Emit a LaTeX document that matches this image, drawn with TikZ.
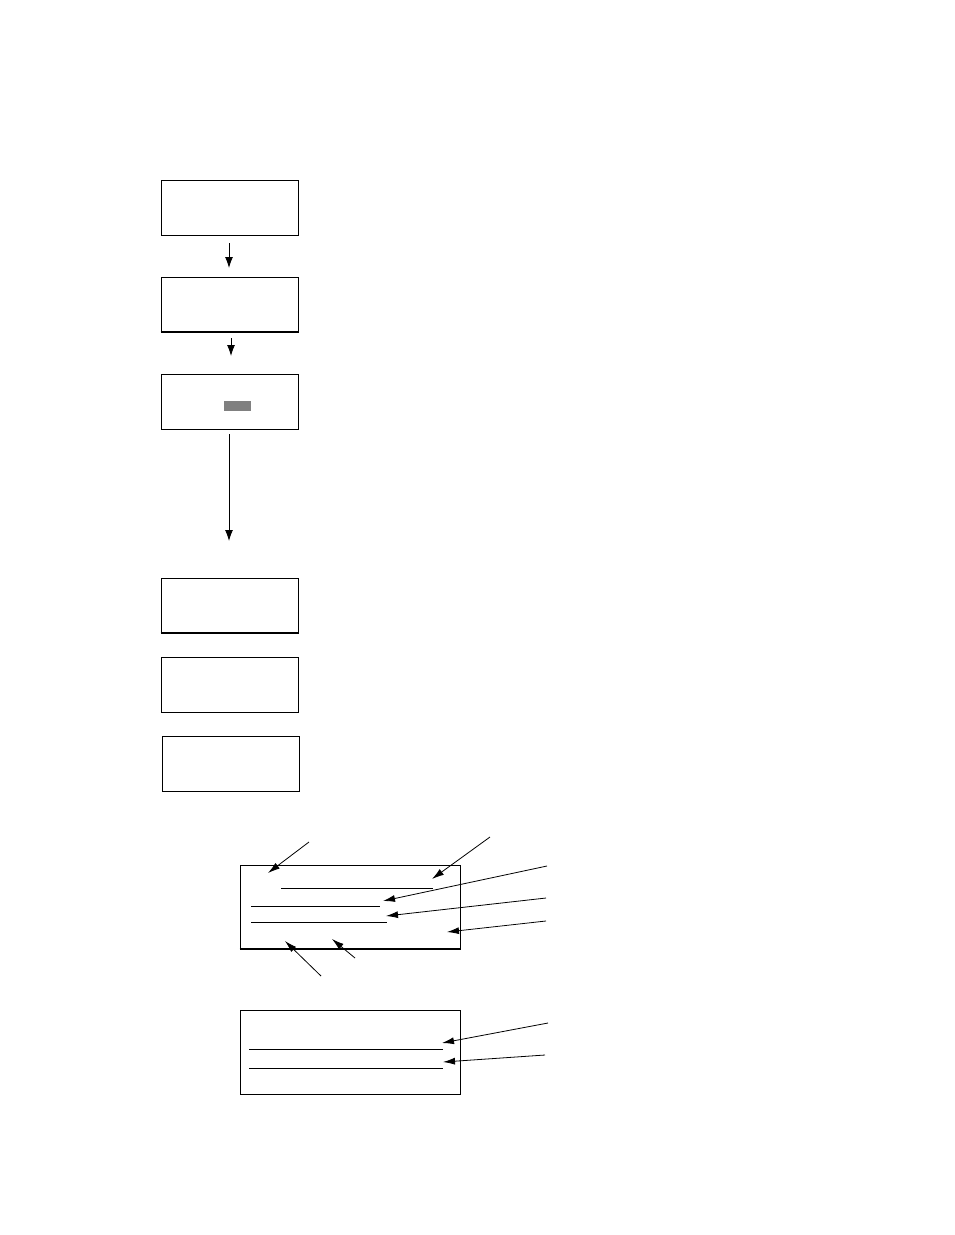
\documentclass[tikz,border=0pt]{standalone}
\usetikzlibrary{arrows.meta}

\tikzset{
  screen/.style={draw, line width=0.9pt, minimum width=137pt, minimum height=55pt, inner sep=0pt},
  panel/.style={draw, line width=0.9pt, minimum width=220pt, minimum height=84pt, inner sep=0pt},
  flow/.style={line width=0.9pt, -{Latex[length=11pt, width=8pt]}},
  callout/.style={line width=0.8pt, -{Latex[length=12pt, width=7pt]}},
  field/.style={line width=0.8pt}
}

\begin{document}
\begin{tikzpicture}[x=1pt, y=-1pt]
            \useasboundingbox (0,0) rectangle (954,1235);

            % screens
            \node[screen] (s1) at (229.5, 207.5) {};
            \node[screen] (s2) at (229.5, 304.5) {};
            \node[screen] (s3) at (229.5, 401.5) {};
            \node[screen] (s4) at (229.5, 605.5) {};
            \node[screen] (s5) at (229.5, 684.5) {};
            \node[screen] (s6) at (230.5, 763.5) {};

            \draw[line width=2pt] (s2.south west) -- (s2.south east);
            \draw[line width=2pt] (s4.south west) -- (s4.south east);
            \fill[gray] (224, 401) rectangle (251, 411);

            \coordinate (f1) at (229, 243);
            \coordinate (t1) at (229, 268);
            \coordinate (f2) at (231, 338);
            \coordinate (t2) at (231, 356);
            \coordinate (f3) at (229, 434);
            \coordinate (t3) at (229, 541);

            \draw[flow] (f1) to (t1);
            \draw[flow] (f2) to (t2);
            \draw[flow] (f3) to (t3);

            % detail panels
            \node[panel] (p1) at (350, 907) {};
            \node[panel] (p2) at (350.5, 1052.5) {};
            \draw[line width=2pt] (p1.south west) -- (p1.south east);

            \draw[field] (281, 888) -- (433, 888);
            \draw[field] (251, 906) -- (380, 906);
            \draw[field] (251, 922) -- (387, 922);
            \draw[field] (249, 1049) -- (443, 1049);
            \draw[field] (249, 1068) -- (443, 1068);

            \coordinate (c1) at (309, 842);
            \coordinate (d1) at (268, 873);
            \coordinate (c2) at (490, 837);
            \coordinate (d2) at (432, 879);
            \coordinate (c3) at (547, 866);
            \coordinate (d3) at (383, 901);
            \coordinate (c4) at (546, 898);
            \coordinate (d4) at (386, 916);
            \coordinate (c5) at (546, 921);
            \coordinate (d5) at (447, 932);
            \coordinate (c6) at (321, 976);
            \coordinate (d6) at (285, 941);
            \coordinate (c7) at (355, 958);
            \coordinate (d7) at (332, 939);
            \coordinate (c8) at (548, 1023);
            \coordinate (d8) at (442, 1043);
            \coordinate (c9) at (545, 1055);
            \coordinate (d9) at (443, 1062);

            \foreach \i in {1,...,9}
              \draw[callout] (c\i) to (d\i);
        \end{tikzpicture}
\end{document}
